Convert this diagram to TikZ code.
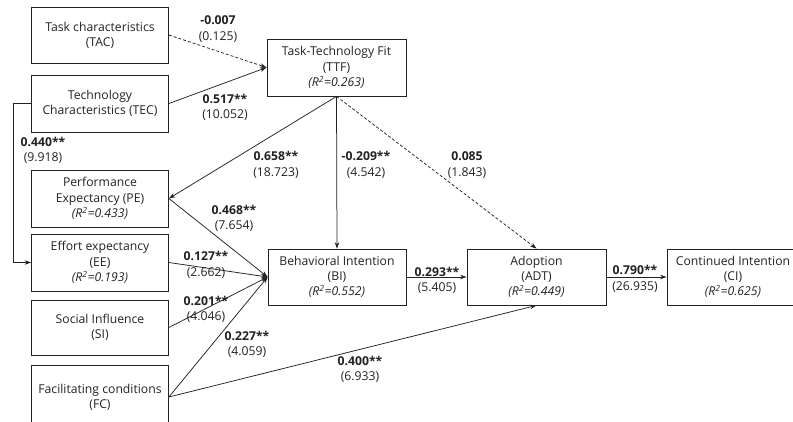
\documentclass[tikz,border=0pt]{standalone}
\usepackage{fontspec}
\setmainfont{Open Sans}
\usetikzlibrary{arrows.meta}
\definecolor{ink}{HTML}{222222}
\tikzset{
  box/.style={draw=ink, line width=0.8pt, rectangle, minimum width=137pt, minimum height=56pt,
    align=center, inner sep=0pt, font=\fontsize{12.2}{15.3}\selectfont, text=ink},
  coef/.style={align=center, inner sep=0pt, font=\fontsize{12.2}{15.5}\selectfont, text=ink},
  arr/.style={draw=ink, line width=0.75pt, -{Stealth[length=6.5pt,width=4.5pt]}},
  darr/.style={arr, dash pattern=on 3pt off 2pt},
}
\newcommand{\rsq}[1]{\textit{(R\textsuperscript{2}=#1)}}
\begin{document}
\begin{tikzpicture}[x=1pt,y=-1pt]
\useasboundingbox (0,0) rectangle (793,421);
\begin{scope}
\clip (0,0) rectangle (793,421);
% boxes
\node[box] (TAC) at (100,35) {Task characteristics\\(TAC)};
\node[box, minimum height=57pt] (TEC) at (100,103.5) {Technology\\Characteristics (TEC)};
\node[box, minimum width=139pt, minimum height=57pt] (TTF) at (336.5,67.5) {Task-Technology Fit\\(TTF)\\\rsq{0.263}};
\node[box, minimum height=57pt] (PE) at (100,198.5) {Performance\\Expectancy (PE)\\\rsq{0.433}};
\node[box, minimum height=57pt] (EE) at (100,262.5) {Effort expectancy\\(EE)\\\rsq{0.193}};
\node[box, minimum height=55pt] (SI) at (100,327.5) {Social Influence\\(SI)};
\node[box, minimum height=64pt] (FC) at (100,397) {Facilitating conditions\\(FC)};
\node[box, minimum width=138pt] (BI) at (337,277) {Behavioral Intention\\(BI)\\\rsq{0.552}};
\node[box, minimum width=139pt] (ADT) at (536.5,277) {Adoption\\(ADT)\\\rsq{0.449}};
\node[box, minimum width=132pt] (CI) at (733,277) {Continued Intention\\(CI)\\\rsq{0.625}};
% connectors
\draw[darr] (TAC.east) -- (TTF.west);
\draw[arr] (TEC.east) -- (TTF.west);
\draw[arr] (TEC.west) -- ++(-18,0) |- (EE.west);
\draw[arr] (TTF.south) -- (PE.east);
\draw[arr] (TTF.south) -- (BI.north);
\draw[darr] (TTF.south) -- (ADT.north);
\draw[arr] (PE.east) -- (BI.west);
\draw[arr] (EE.east) -- (BI.west);
\draw[arr] (SI.east) -- (BI.west);
\draw[arr] (FC.east) -- (BI.west);
\draw[arr] (FC.east) -- (ADT.south);
\draw[arr] (BI.east) -- (ADT.west);
\draw[arr] (ADT.east) -- (CI.west);
% coefficients
\node[coef] (l1) at (218,29) {\textbf{-0.007}\\(0.125)};
\node[coef] (l2) at (225,107.5) {\textbf{0.517**}\\(10.052)};
\node[coef] (l3) at (43,150.5) {\textbf{0.440**}\\(9.918)};
\node[coef] (l4) at (276,165) {\textbf{0.658**}\\(18.723)};
\node[coef] (l5) at (366,165) {\textbf{-0.209**}\\(4.542)};
\node[coef] (l6) at (467,165) {\textbf{0.085}\\(1.843)};
\node[coef] (l7) at (234,218.5) {\textbf{0.468**}\\(7.654)};
\node[coef] (l8) at (206,265) {\textbf{0.127**}\\(2.662)};
\node[coef] (l9) at (206,309.5) {\textbf{0.201**}\\(4.046)};
\node[coef] (l10) at (247,344.5) {\textbf{0.227**}\\(4.059)};
\node[coef] (l11) at (360,369.5) {\textbf{0.400**}\\(6.933)};
\node[coef] (l12) at (437,280.5) {\textbf{0.293**}\\(5.405)};
\node[coef] (l13) at (635,279) {\textbf{0.790**}\\(26.935)};
\end{scope}
\end{tikzpicture}
\end{document}
